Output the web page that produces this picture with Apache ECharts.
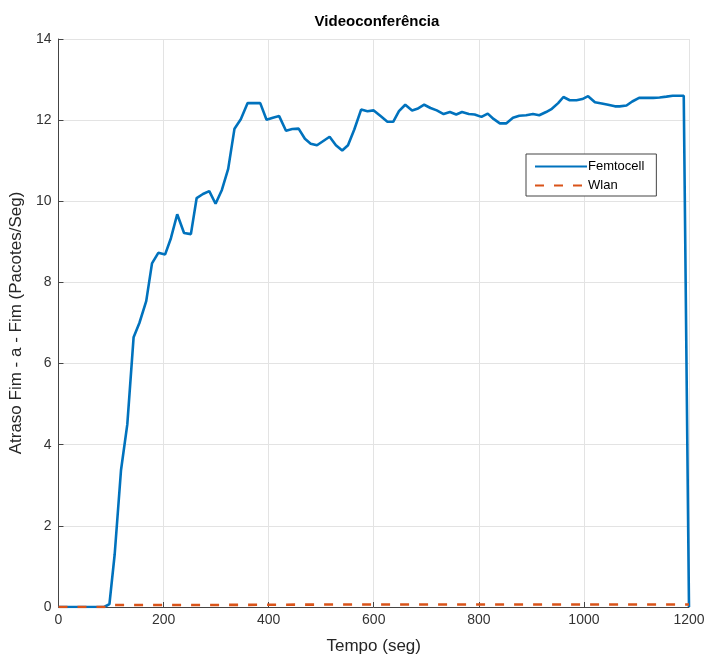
<!DOCTYPE html>
<html>
<head>
<meta charset="utf-8">
<script src="https://cdn.jsdelivr.net/npm/echarts@6/dist/echarts.min.js"></script>
<style>html,body{margin:0;padding:0;background:#fff}#c{width:709px;height:660px}</style>
</head>
<body>
<div id="c"></div>
<script>
var femtoX = [0, 87, 97, 107, 119, 131, 143, 154, 167, 178, 190, 203, 214, 226, 239, 252, 263, 275, 287, 299, 311, 323, 335, 347, 360, 384, 396, 408, 420, 433, 445, 457, 469, 480, 492, 516, 528, 540, 551, 563, 576, 588, 600, 613, 626, 637, 648, 660, 673, 683, 696, 708, 720, 733, 745, 757, 768, 781, 792, 805, 817, 828, 840, 852, 865, 877, 890, 903, 915, 928, 939, 951, 961, 973, 986, 997, 1008, 1021, 1034, 1046, 1059, 1068, 1081, 1092, 1105, 1119, 1132, 1144, 1157, 1169, 1190, 1200];
var femtoY = [0, 0, 0.07, 1.3, 3.37, 4.5, 6.65, 7.0, 7.54, 8.47, 8.73, 8.69, 9.09, 9.68, 9.22, 9.19, 10.08, 10.18, 10.25, 9.94, 10.28, 10.8, 11.79, 12.02, 12.42, 12.42, 12.01, 12.06, 12.1, 11.74, 11.78, 11.79, 11.54, 11.42, 11.38, 11.59, 11.38, 11.25, 11.38, 11.77, 12.26, 12.22, 12.24, 12.1, 11.96, 11.96, 12.22, 12.38, 12.24, 12.28, 12.38, 12.3, 12.24, 12.15, 12.2, 12.14, 12.2, 12.15, 12.14, 12.08, 12.16, 12.03, 11.92, 11.92, 12.06, 12.11, 12.12, 12.15, 12.12, 12.2, 12.28, 12.42, 12.57, 12.49, 12.49, 12.52, 12.59, 12.44, 12.41, 12.38, 12.34, 12.34, 12.36, 12.46, 12.55, 12.55, 12.55, 12.56, 12.58, 12.6, 12.6, 0];
var wlanX = [0, 90, 100, 300, 500, 700, 900, 1100, 1200];
var wlanY = [0, 0, 0.05, 0.05, 0.06, 0.06, 0.06, 0.06, 0.06];
var xTicks = [0, 200, 400, 600, 800, 1000, 1200];
var yTicks = [0, 2, 4, 6, 8, 10, 12, 14];

function pairs(xs, ys) { return xs.map(function (x, i) { return [x, ys[i]]; }); }

var chart = echarts.init(document.getElementById('c'), null, { renderer: 'canvas' });
var font = 'Liberation Sans, Arial, Helvetica, sans-serif';
chart.setOption({
  animation: false,
  backgroundColor: '#fff',
  title: {
    text: 'Videoconferência', left: 372, top: 9, textAlign: 'center',
    textStyle: { fontFamily: font, fontSize: 15, fontWeight: 'bold', color: '#000' }
  },
  grid: { left: 57, right: 20, top: 39, bottom: 51 },
  legend: {
    orient: 'vertical', left: 526, top: 154,
    backgroundColor: '#fff', borderColor: '#444', borderWidth: 1,
    padding: [6, 12, 4, 8], itemGap: 6, itemWidth: 52, itemHeight: 13,
    itemStyle: { opacity: 0 },
    textStyle: { fontFamily: font, fontSize: 13, color: '#000', padding: [0, 0, 0, -4] },
    data: ['Femtocell', 'Wlan']
  },
  xAxis: {
    type: 'value', min: 0, max: 1200, interval: 200,
    name: 'Tempo (seg)', nameLocation: 'middle', nameGap: 31,
    nameTextStyle: { fontFamily: font, fontSize: 17, color: '#262626' },
    axisLine: { show: true, lineStyle: { color: '#444', width: 1 } },
    axisTick: { show: true, inside: true, length: 5, lineStyle: { color: '#444' } },
    axisLabel: { fontFamily: font, fontSize: 14, color: '#333', margin: 6,
      formatter: function (v) { return xTicks.indexOf(v) >= 0 ? String(v) : ''; } },
    splitLine: { show: true, lineStyle: { color: '#e3e3e3', width: 1 } }
  },
  yAxis: {
    type: 'value', min: 0, max: 14, interval: 2,
    name: 'Atraso Fim - a - Fim (Pacotes/Seg)', nameLocation: 'middle', nameGap: 28, nameRotate: 90,
    nameTextStyle: { fontFamily: font, fontSize: 17, color: '#262626' },
    axisLine: { show: true, lineStyle: { color: '#444', width: 1 } },
    axisTick: { show: true, inside: true, length: 5, lineStyle: { color: '#444' } },
    axisLabel: { fontFamily: font, fontSize: 14, color: '#333', margin: 7,
      formatter: function (v) { return yTicks.indexOf(v) >= 0 ? String(v) : ''; } },
    splitLine: { show: true, lineStyle: { color: '#e3e3e3', width: 1 } }
  },
  series: [
    {
      name: 'Femtocell', type: 'line', symbol: 'none', z: 3,
      data: pairs(femtoX, femtoY),
      itemStyle: { color: '#0072BD' },
      lineStyle: { color: '#0072BD', width: 2.6 }
    },
    {
      name: 'Wlan', type: 'line', symbol: 'none', z: 4,
      data: pairs(wlanX, wlanY),
      itemStyle: { color: '#D95319' },
      lineStyle: { color: '#D95319', width: 2.6, type: [9, 10] }
    }
  ]
});
</script>
</body>
</html>
